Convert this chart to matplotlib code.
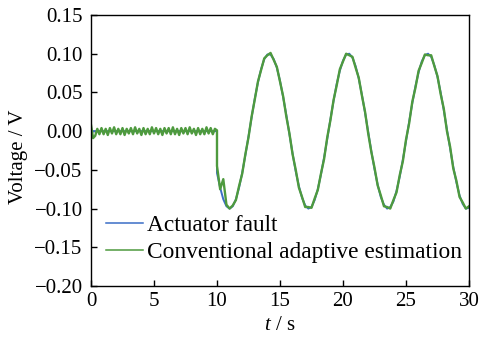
import numpy as np
import matplotlib
matplotlib.use("Agg")
import matplotlib.pyplot as plt
from matplotlib.ticker import FuncFormatter

plt.rcParams["font.family"] = ["Liberation Serif", "DejaVu Serif"]
plt.rcParams["mathtext.fontset"] = "custom"
plt.rcParams["mathtext.it"] = "Liberation Serif:italic"
plt.rcParams["mathtext.rm"] = "Liberation Serif"

# actuator fault: zero until 10 s, then sampled every 0.25 s
fault_pre_t = [0.0, 10.0]
fault_pre_v = [0.0, 0.0]
fault_t = np.arange(10.0, 30.001, 0.25)
fault_v = [
    -0.054, -0.073, -0.088, -0.097, -0.100, -0.097, -0.088, -0.073, -0.054, -0.031,
    -0.007, 0.018, 0.042, 0.063, 0.080, 0.093, 0.099, 0.099, 0.093, 0.082,
    0.065, 0.044, 0.021, -0.004, -0.029, -0.052, -0.071, -0.086, -0.096, -0.100,
    -0.098, -0.089, -0.075, -0.056, -0.034, -0.010, 0.015, 0.039, 0.061, 0.078,
    0.091, 0.099, 0.100, 0.095, 0.084, 0.068, 0.047, 0.024, -0.001, -0.026,
    -0.049, -0.069, -0.085, -0.095, -0.100, -0.098, -0.091, -0.077, -0.059, -0.037,
    -0.013, 0.012, 0.036, 0.058, 0.076, 0.090, 0.098, 0.100, 0.096, 0.085,
    0.070, 0.050, 0.027, 0.002, -0.022, -0.046, -0.066, -0.083, -0.094, -0.100,
    -0.099,
]

# conventional adaptive estimate: ripple around zero, then follows the fault
est_pre_t = np.linspace(0.0, 10.0, 61)
est_pre_v = [
    0.008, -0.009, -0.006, 0.003, -0.004, 0.004, -0.004, 0.003, -0.005, 0.004,
    -0.003, 0.005, -0.004, 0.003, -0.004, 0.004, -0.005, 0.003, -0.003, 0.004,
    -0.004, 0.005, -0.003, 0.003, -0.005, 0.004, -0.004, 0.003, -0.004, 0.005,
    -0.003, 0.004, -0.004, 0.003, -0.005, 0.004, -0.003, 0.004, -0.004, 0.005,
    -0.004, 0.003, -0.005, 0.004, -0.003, 0.004, -0.004, 0.005, -0.003, 0.003,
    -0.005, 0.004, -0.004, 0.003, -0.004, 0.005, -0.003, 0.004, -0.004, 0.003,
    0.001,
]
est_t = np.arange(10.0, 30.001, 0.25)
est_v = [
    -0.045, -0.075, -0.062, -0.095, -0.100, -0.096, -0.089, -0.071, -0.055, -0.030,
    -0.008, 0.019, 0.041, 0.064, 0.079, 0.094, 0.098, 0.101, 0.092, 0.083,
    0.064, 0.045, 0.019, -0.003, -0.030, -0.050, -0.073, -0.085, -0.098, -0.098,
    -0.099, -0.087, -0.076, -0.055, -0.036, -0.008, 0.014, 0.040, 0.059, 0.080,
    0.090, 0.100, 0.098, 0.096, 0.082, 0.069, 0.046, 0.025, -0.003, -0.027,
    -0.047, -0.070, -0.083, -0.097, -0.098, -0.100, -0.089, -0.079, -0.057, -0.039,
    -0.011, 0.010, 0.038, 0.056, 0.078, 0.088, 0.099, 0.098, 0.098, 0.084,
    0.071, 0.048, 0.029, 0.000, -0.020, -0.048, -0.064, -0.085, -0.092, -0.100,
    -0.097,
]

BLUE = "#3a6ec6"
GREEN = "#4e9a3e"

fig = plt.figure(figsize=(4.83, 3.37), dpi=100)
ax = fig.add_axes([0.1884, 0.1513, 0.7826, 0.8042])

ft = np.concatenate([fault_pre_t, fault_t])
fv = np.concatenate([fault_pre_v, fault_v])
et = np.concatenate([est_pre_t, est_t])
ev = np.concatenate([est_pre_v, est_v])

ax.plot(ft, fv, color=BLUE, lw=1.4, label="Actuator fault")
ax.plot(et, ev, color=GREEN, lw=1.7, label="Conventional adaptive estimation")

ax.set_xlim(0, 30)
ax.set_ylim(-0.2, 0.15)
ax.set_xticks(np.arange(0, 31, 5))
ax.set_yticks(np.arange(-0.2, 0.151, 0.05))


def _fmt(v, _pos):
    v = round(v, 2)
    if v == 0:
        v = 0.0
    return f"{v:.2f}".replace("-", "\u2212")


ax.yaxis.set_major_formatter(FuncFormatter(_fmt))
ax.tick_params(direction="in", length=4.5, width=1, labelsize=15,
               top=False, right=False)
ax.tick_params(axis="y", pad=6)
ax.tick_params(axis="x", pad=4)
for s in ax.spines.values():
    s.set_linewidth(1.0)

ax.set_xlabel(r"$t$ / s", fontsize=15)
ax.xaxis.set_label_coords(0.5, -0.112)
ax.set_ylabel("Voltage / V", fontsize=15)
ax.yaxis.set_label_coords(-0.166, 0.476)

leg = ax.legend(loc="lower left", frameon=False, fontsize=16.8,
                handlelength=1.57, handletextpad=0.17, borderaxespad=0.0,
                borderpad=0.0, labelspacing=0.24,
                bbox_to_anchor=(0.04, 0.086))
for h in leg.get_lines():
    h.set_linewidth(1.1)

fig.savefig("out.png", dpi=100)
